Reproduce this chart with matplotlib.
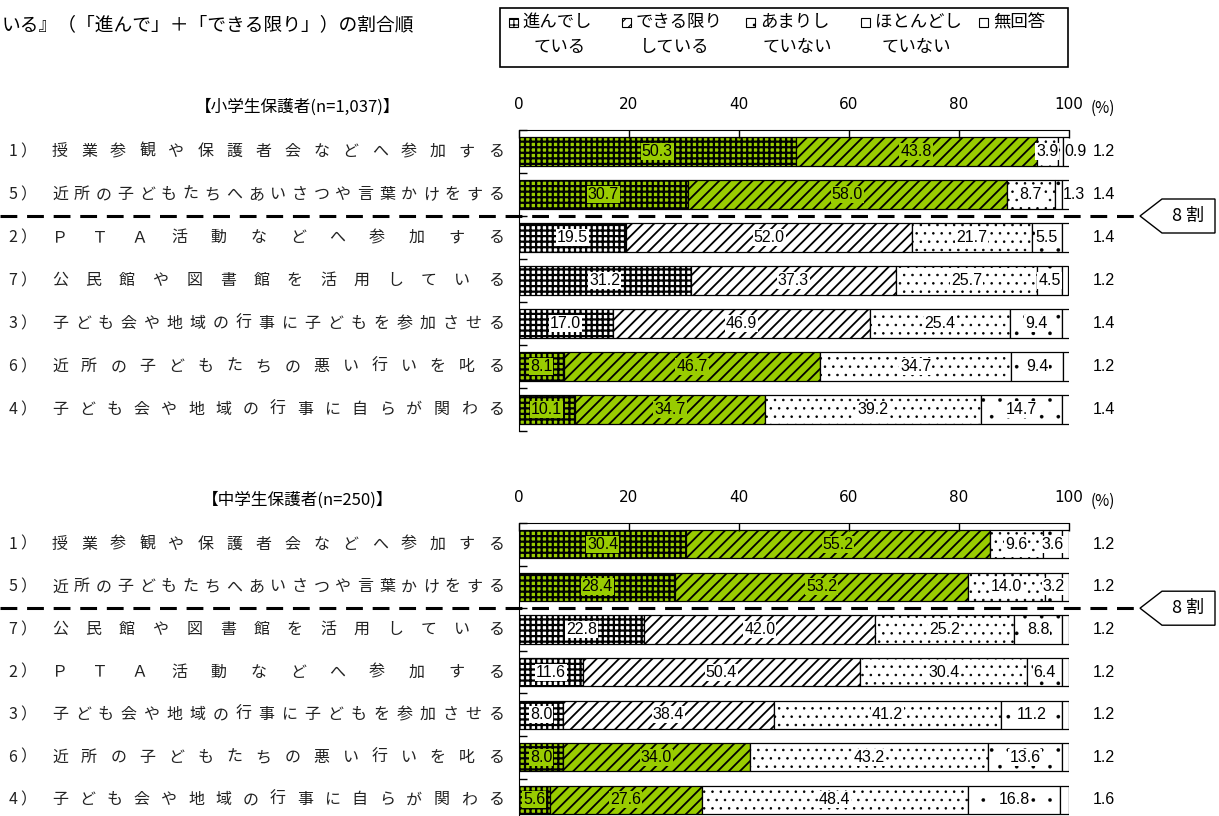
import numpy as np
import matplotlib
matplotlib.use("Agg")
import matplotlib.pyplot as plt
from matplotlib import font_manager
from matplotlib.patches import Rectangle, Polygon
from matplotlib.lines import Line2D
import matplotlib.transforms as mtransforms

plt.rcParams['font.family'] = ['Noto Sans CJK JP', 'DejaVu Sans']
plt.rcParams['hatch.linewidth'] = 1.3

W, H = 1219, 816
green = "#99CC00"

# --- data -------------------------------------------------------------
series_names = ["進んでし\nている", "できる限り\nしている", "あまりし\nていない", "ほとんどし\nていない", "無回答"]

elem_labels = ["1）授業参観や保護者会などへ参加する",
               "5）近所の子どもたちへあいさつや言葉かけをする",
               "2）ＰＴＡ活動などへ参加する",
               "7）公民館や図書館を活用している",
               "3）子ども会や地域の行事に子どもを参加させる",
               "6）近所の子どもたちの悪い行いを叱る",
               "4）子ども会や地域の行事に自らが関わる"]
elem_susunde = [50.3, 30.7, 19.5, 31.2, 17.0, 8.1, 10.1]
elem_dekiru = [43.8, 58.0, 52.0, 37.3, 46.9, 46.7, 34.7]
elem_amari = [3.9, 8.7, 21.7, 25.7, 25.4, 34.7, 39.2]
elem_hotondo = [0.9, 1.3, 5.5, 4.5, 9.4, 9.4, 14.7]
elem_muka = [1.2, 1.4, 1.4, 1.2, 1.4, 1.2, 1.4]
elem_green = [True, True, False, False, False, True, True]

mid_labels = ["1）授業参観や保護者会などへ参加する",
              "5）近所の子どもたちへあいさつや言葉かけをする",
              "7）公民館や図書館を活用している",
              "2）ＰＴＡ活動などへ参加する",
              "3）子ども会や地域の行事に子どもを参加させる",
              "6）近所の子どもたちの悪い行いを叱る",
              "4）子ども会や地域の行事に自らが関わる"]
mid_susunde = [30.4, 28.4, 22.8, 11.6, 8.0, 8.0, 5.6]
mid_dekiru = [55.2, 53.2, 42.0, 50.4, 38.4, 34.0, 27.6]
mid_amari = [9.6, 14.0, 25.2, 30.4, 41.2, 43.2, 48.4]
mid_hotondo = [3.6, 3.2, 8.8, 6.4, 11.2, 13.6, 16.8]
mid_muka = [1.2, 1.2, 1.2, 1.2, 1.2, 1.2, 1.6]
mid_green = [True, True, False, False, False, True, True]

hatches = ["+++", "///", "..", ".", ""]
hatch_lw = [1.6, 1.3, 0.6, 0.2, 1.0]

# narrow font for the numbers if one is available
names = {f.name for f in font_manager.fontManager.ttflist}
if "Liberation Sans Narrow" in names:
    num_font, num_size = "Liberation Sans Narrow", 12.5
else:
    num_font, num_size = "Liberation Sans", 11.5


def fx(x):
    return x / W


def fy(y):
    return 1 - y / H


fig = plt.figure(figsize=(12.19, 8.16), dpi=100)


def panel(top_px, row_px, labels, segs, greens, header):
    n = len(labels)
    ax = fig.add_axes([fx(519), fy(top_px + n * row_px), 550 / W, n * row_px / H])
    y = np.arange(n)
    left = np.zeros(n)
    for k, vals in enumerate(segs):
        vals = np.array(vals)
        fcs = [green if (k < 2 and g) else "white" for g in greens]
        with plt.rc_context({"hatch.linewidth": hatch_lw[k]}):
            ax.barh(y, vals, left=left, height=0.66, color=fcs, edgecolor="black",
                    hatch=hatches[k], linewidth=0.9)
        for i in range(n):
            v = vals[i]
            if k == 4:
                ax.text(106.3, i, f"{v:.1f}", ha="center", va="center",
                        fontsize=num_size, family=num_font)
            elif k == 3 and v < 2:
                ax.text(left[i] + v + 0.2, i, f"{v:.1f}", ha="left", va="center",
                        fontsize=num_size, family=num_font)
            else:
                ax.text(left[i] + v / 2, i, f"{v:.1f}", ha="center", va="center",
                        fontsize=num_size, family=num_font,
                        bbox=dict(boxstyle="square,pad=0.06", fc=fcs[i], ec="none"))
        left = left + vals

    ax.set_xlim(0, 100)
    ax.set_ylim(n - 0.5, -0.5)
    ax.xaxis.tick_top()
    ax.set_xticks([0, 20, 40, 60, 80, 100])
    ax.tick_params(axis="x", direction="in", length=6, pad=13, labelsize=11, width=1)
    for t in ax.get_xticklabels():
        t.set_family("DejaVu Sans")
    ax.set_yticks(np.arange(-0.5, n, 1))
    ax.set_yticklabels([])
    ax.tick_params(axis="y", direction="in", length=6, width=1)
    ax.spines["right"].set_visible(False)
    ax.spines["bottom"].set_visible(False)
    ax.set_facecolor("none")

    # row labels spread across a fixed width
    tr = mtransforms.blended_transform_factory(fig.transFigure, ax.transData)
    for i, lab in enumerate(labels):
        ax.text(fx(13), i, lab[0], transform=tr, ha="center", va="center",
                fontsize=11.5, color="#222222")
        ax.text(fx(20), i, lab[1], transform=tr, ha="left", va="center",
                fontsize=11.5, color="#222222")
        body = lab[2:]
        xs = np.linspace(60, 496, len(body))
        for ch, xp in zip(body, xs):
            ax.text(fx(xp), i, ch, transform=tr, ha="center", va="center",
                    fontsize=11.5, color="#222222")

    fig.text(fx(298), fy(top_px - 23), header, ha="center", va="center",
             fontsize=12)
    fig.text(fx(1103), fy(top_px - 22), "(%)", ha="center", va="center", fontsize=11)

    # 8割 line between rows 2 and 3
    ydash = top_px + 2 * row_px
    fig.add_artist(Line2D([0, fx(1140)], [fy(ydash), fy(ydash)], color="black",
                          lw=2.2, dashes=[5.5, 3.2]))
    pts = [(1140, ydash), (1162, ydash - 17), (1215, ydash - 17),
           (1215, ydash + 17), (1162, ydash + 17)]
    fig.add_artist(Polygon([(fx(a), fy(b)) for a, b in pts], closed=True,
                           fc="white", ec="black", lw=1.0, transform=fig.transFigure))
    fig.text(fx(1188), fy(ydash), "8 割", ha="center", va="center", fontsize=13)
    return ax


panel(130, 43, elem_labels,
      [elem_susunde, elem_dekiru, elem_amari, elem_hotondo, elem_muka],
      elem_green, "【小学生保護者(n=1,037)】")
panel(523, 42.6, mid_labels,
      [mid_susunde, mid_dekiru, mid_amari, mid_hotondo, mid_muka],
      mid_green, "【中学生保護者(n=250)】")

# title fragment at top left
fig.text(fx(2), fy(25), "いる』（「進んで」＋「できる限り」）の割合順",
         ha="left", va="center", fontsize=13.5)

# legend box
fig.add_artist(Rectangle((fx(500), fy(67)), 568 / W, 59 / H, fill=False, ec="black",
                         lw=1.2, transform=fig.transFigure))
mk_x = [509, 622, 746, 861, 979]
txt_x = [522, 636, 760, 875, 993]
line2_x = [534, 640, 763, 882, None]
for k, name in enumerate(series_names):
    with plt.rc_context({"hatch.linewidth": 0.8}):
        fig.add_artist(Rectangle((fx(mk_x[k]), fy(27)), 9 / W, 9 / H, fc="white",
                                 ec="black", lw=0.8, hatch=hatches[k],
                                 transform=fig.transFigure))
    parts = name.split("\n")
    fig.text(fx(txt_x[k]), fy(22), parts[0], ha="left", va="center", fontsize=12.5)
    if len(parts) > 1:
        fig.text(fx(line2_x[k]), fy(47), parts[1], ha="left", va="center",
                 fontsize=12.5)

fig.savefig("out.png", dpi=100)
